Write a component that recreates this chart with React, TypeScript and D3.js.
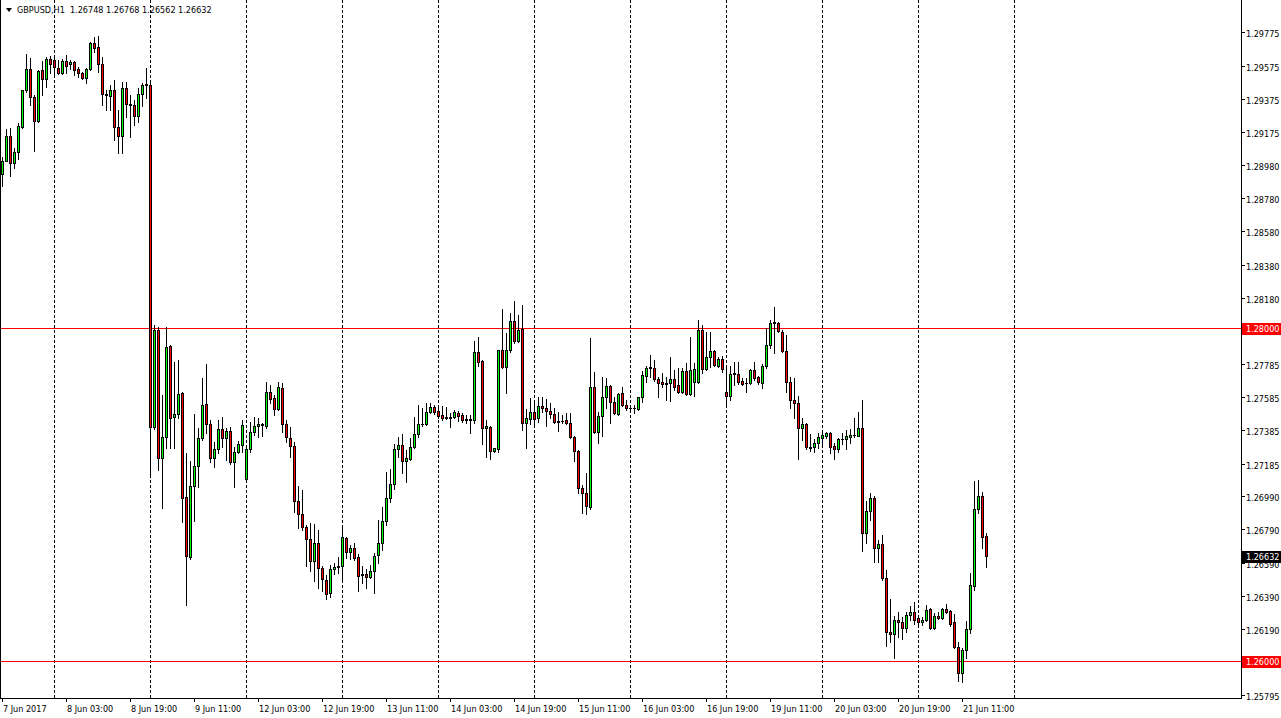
import React from 'react';
import * as d3 from 'd3';

// ---------- DATA (GBPUSD H1) ----------
const openP = [
1.28925,1.29003,1.29153,1.28991,1.29057,1.29207,1.29429,1.29556,1.29387,1.29243,
1.29550,1.29496,1.29616,1.29610,1.29562,1.29532,1.29604,1.29586,1.29598,1.29556,
1.29532,1.29502,1.29556,1.29712,1.29688,1.29586,1.29405,1.29393,1.29429,1.29207,
1.29153,1.29441,1.29345,1.29339,1.29273,1.29405,1.29465,1.29459,1.27405,1.27988,
1.27219,1.27345,1.27892,1.27465,1.27484,1.27610,1.26985,1.26625,1.27051,1.27171,
1.27339,1.27544,1.27423,1.27219,1.27273,1.27393,1.27339,1.27381,1.27195,1.27255,
1.27297,1.27093,1.27273,1.27375,1.27411,1.27417,1.27411,1.27616,1.27580,1.27514,
1.27640,1.27423,1.27339,1.27291,1.26961,1.26883,1.26805,1.26733,1.26601,1.26709,
1.26559,1.26487,1.26408,1.26553,1.26565,1.26571,1.26739,1.26655,1.26679,1.26625,
1.26517,1.26523,1.26505,1.26541,1.26637,1.26709,1.26841,1.26979,1.27063,1.27273,
1.27297,1.27201,1.27213,1.27285,1.27363,1.27423,1.27423,1.27496,1.27526,1.27502,
1.27478,1.27465,1.27462,1.27465,1.27490,1.27478,1.27453,1.27450,1.27447,1.27856,
1.27802,1.27399,1.27405,1.27261,1.27273,1.27868,1.27766,1.27868,1.28043,1.27922,
1.27994,1.27429,1.27453,1.27496,1.27459,1.27532,1.27520,1.27502,1.27484,1.27438,
1.27441,1.27447,1.27429,1.27345,1.27261,1.27039,1.27009,1.26925,1.27646,1.27375,
1.27472,1.27586,1.27652,1.27556,1.27484,1.27610,1.27538,1.27520,1.27517,1.27514,
1.27586,1.27712,1.27760,1.27760,1.27694,1.27676,1.27670,1.27670,1.27694,1.27658,
1.27616,1.27742,1.27604,1.27676,1.27676,1.27988,1.27754,1.27826,1.27862,1.27772,
1.27814,1.27616,1.27592,1.27724,1.27724,1.27682,1.27670,1.27670,1.27748,1.27706,
1.27670,1.27772,1.27898,1.28031,1.28031,1.27976,1.27862,1.27676,1.27568,1.27550,
1.27399,1.27423,1.27285,1.27285,1.27309,1.27339,1.27351,1.27369,1.27291,1.27273,
1.27333,1.27333,1.27345,1.27357,1.27351,1.27399,1.26769,1.26901,1.26979,1.26679,
1.26703,1.26499,1.26174,1.26162,1.26246,1.26234,1.26198,1.26276,1.26294,1.26258,
1.26234,1.26246,1.26312,1.26198,1.26270,1.26258,1.26312,1.26300,1.26234,1.26084,
1.25928,1.26066,1.26192,1.26450,1.26913,1.26991,1.26748
];
const highP = [
1.29027,1.29195,1.29201,1.29081,1.29231,1.29429,1.29646,1.29622,1.29399,1.29550,
1.29604,1.29628,1.29634,1.29634,1.29610,1.29616,1.29640,1.29610,1.29604,1.29568,
1.29538,1.29562,1.29718,1.29748,1.29754,1.29628,1.29429,1.29459,1.29490,1.29309,
1.29478,1.29478,1.29399,1.29369,1.29441,1.29472,1.29562,1.29472,1.28018,1.28006,
1.27598,1.28006,1.27898,1.27796,1.27808,1.27616,1.27249,1.27201,1.27484,1.27399,
1.27700,1.27784,1.27447,1.27315,1.27447,1.27465,1.27399,1.27405,1.27285,1.27321,
1.27447,1.27285,1.27435,1.27465,1.27459,1.27429,1.27676,1.27658,1.27598,1.27676,
1.27670,1.27447,1.27405,1.27315,1.27051,1.27027,1.26817,1.26829,1.26823,1.26787,
1.26571,1.26517,1.26577,1.26589,1.26625,1.26799,1.26745,1.26697,1.26709,1.26643,
1.26571,1.26553,1.26577,1.26649,1.26847,1.26925,1.27135,1.27153,1.27303,1.27345,
1.27363,1.27267,1.27339,1.27465,1.27538,1.27520,1.27550,1.27550,1.27538,1.27538,
1.27532,1.27526,1.27490,1.27508,1.27502,1.27490,1.27478,1.27478,1.27922,1.27946,
1.27808,1.27447,1.27411,1.27279,1.27868,1.28115,1.27970,1.28090,1.28163,1.28078,
1.28138,1.27514,1.27580,1.27568,1.27586,1.27586,1.27574,1.27550,1.27520,1.27496,
1.27478,1.27490,1.27490,1.27351,1.27267,1.27057,1.27129,1.27940,1.27736,1.27496,
1.27706,1.27700,1.27658,1.27586,1.27610,1.27646,1.27568,1.27538,1.27538,1.27586,
1.27742,1.27772,1.27838,1.27808,1.27706,1.27730,1.27706,1.27826,1.27748,1.27760,
1.27760,1.27790,1.27946,1.27790,1.28048,1.28018,1.27976,1.27976,1.27868,1.27826,
1.27832,1.27766,1.27772,1.27796,1.27796,1.27700,1.27700,1.27754,1.27796,1.27712,
1.27784,1.28000,1.28048,1.28127,1.28037,1.27988,1.27958,1.27706,1.27700,1.27592,
1.27459,1.27429,1.27363,1.27333,1.27369,1.27369,1.27375,1.27375,1.27309,1.27339,
1.27369,1.27387,1.27393,1.27459,1.27496,1.27568,1.26961,1.27009,1.26991,1.26727,
1.26757,1.26547,1.26372,1.26270,1.26294,1.26264,1.26294,1.26330,1.26354,1.26276,
1.26264,1.26336,1.26318,1.26288,1.26294,1.26318,1.26342,1.26306,1.26282,1.26114,
1.26078,1.26240,1.26529,1.27081,1.27087,1.27015,1.26768
];
const lowP = [
1.28853,1.29003,1.28913,1.28961,1.29015,1.29201,1.29417,1.29339,1.29063,1.29237,
1.29399,1.29447,1.29532,1.29514,1.29526,1.29526,1.29532,1.29556,1.29520,1.29508,
1.29496,1.29472,1.29550,1.29658,1.29538,1.29339,1.29309,1.29309,1.29129,1.29051,
1.29051,1.29267,1.29147,1.29219,1.29237,1.29333,1.29381,1.27105,1.27393,1.27147,
1.26919,1.27279,1.27279,1.27279,1.27459,1.26835,1.26336,1.26613,1.26841,1.27045,
1.27327,1.27369,1.27195,1.27165,1.27249,1.27285,1.27207,1.27183,1.27045,1.27249,
1.27255,1.27087,1.27255,1.27357,1.27345,1.27351,1.27399,1.27550,1.27478,1.27508,
1.27375,1.27315,1.27225,1.26895,1.26799,1.26787,1.26571,1.26541,1.26481,1.26438,
1.26420,1.26372,1.26384,1.26523,1.26529,1.26493,1.26619,1.26613,1.26607,1.26420,
1.26469,1.26438,1.26499,1.26408,1.26589,1.26667,1.26817,1.26955,1.27033,1.27225,
1.27129,1.27075,1.27207,1.27279,1.27345,1.27411,1.27417,1.27490,1.27484,1.27459,
1.27447,1.27453,1.27405,1.27459,1.27441,1.27435,1.27429,1.27369,1.27429,1.27772,
1.27303,1.27225,1.27213,1.27255,1.27255,1.27760,1.27610,1.27856,1.27910,1.27916,
1.27387,1.27279,1.27423,1.27423,1.27435,1.27496,1.27411,1.27459,1.27429,1.27381,
1.27429,1.27423,1.27339,1.27201,1.27009,1.26889,1.26883,1.26913,1.27369,1.27309,
1.27351,1.27520,1.27429,1.27484,1.27478,1.27532,1.27508,1.27496,1.27490,1.27508,
1.27556,1.27676,1.27706,1.27682,1.27586,1.27646,1.27568,1.27562,1.27628,1.27610,
1.27610,1.27598,1.27598,1.27592,1.27670,1.27730,1.27748,1.27766,1.27772,1.27766,
1.27736,1.27532,1.27568,1.27658,1.27664,1.27658,1.27616,1.27664,1.27688,1.27664,
1.27640,1.27760,1.27880,1.27850,1.27976,1.27856,1.27616,1.27520,1.27459,1.27213,
1.27327,1.27273,1.27261,1.27255,1.27279,1.27285,1.27339,1.27249,1.27213,1.27255,
1.27303,1.27273,1.27309,1.27345,1.27351,1.26661,1.26709,1.26847,1.26595,1.26595,
1.26487,1.26090,1.26114,1.26018,1.26144,1.26132,1.26174,1.26246,1.26222,1.26204,
1.26216,1.26240,1.26192,1.26192,1.26252,1.26252,1.26288,1.26210,1.26078,1.25880,
1.25874,1.26018,1.26168,1.26426,1.26889,1.26679,1.26562
];
const closeP = [
1.29003,1.29153,1.28991,1.29057,1.29213,1.29429,1.29556,1.29387,1.29243,1.29544,
1.29496,1.29616,1.29586,1.29568,1.29532,1.29604,1.29574,1.29598,1.29550,1.29532,
1.29502,1.29556,1.29712,1.29682,1.29586,1.29405,1.29399,1.29429,1.29207,1.29153,
1.29441,1.29345,1.29339,1.29273,1.29405,1.29459,1.29459,1.27405,1.27988,1.27219,
1.27345,1.27886,1.27459,1.27484,1.27604,1.26979,1.26631,1.27051,1.27171,1.27339,
1.27538,1.27423,1.27219,1.27273,1.27393,1.27339,1.27381,1.27195,1.27255,1.27303,
1.27417,1.27273,1.27375,1.27411,1.27423,1.27423,1.27616,1.27574,1.27514,1.27646,
1.27423,1.27345,1.27291,1.26961,1.26883,1.26805,1.26733,1.26601,1.26709,1.26559,
1.26493,1.26402,1.26553,1.26565,1.26571,1.26745,1.26655,1.26679,1.26619,1.26511,
1.26523,1.26505,1.26541,1.26631,1.26709,1.26841,1.26979,1.27063,1.27273,1.27297,
1.27201,1.27219,1.27285,1.27363,1.27423,1.27426,1.27496,1.27526,1.27496,1.27472,
1.27459,1.27462,1.27465,1.27496,1.27472,1.27447,1.27450,1.27453,1.27856,1.27796,
1.27399,1.27411,1.27261,1.27279,1.27868,1.27766,1.27868,1.28043,1.27922,1.27988,
1.27429,1.27459,1.27496,1.27453,1.27532,1.27520,1.27502,1.27484,1.27435,1.27441,
1.27444,1.27429,1.27345,1.27261,1.27039,1.27009,1.26931,1.27646,1.27375,1.27472,
1.27586,1.27652,1.27556,1.27490,1.27604,1.27538,1.27520,1.27517,1.27520,1.27586,
1.27718,1.27760,1.27763,1.27694,1.27670,1.27664,1.27664,1.27694,1.27646,1.27616,
1.27742,1.27604,1.27748,1.27754,1.27988,1.27754,1.27826,1.27862,1.27778,1.27814,
1.27754,1.27592,1.27724,1.27727,1.27676,1.27664,1.27667,1.27748,1.27700,1.27676,
1.27772,1.27898,1.28031,1.28034,1.27982,1.27862,1.27676,1.27568,1.27550,1.27399,
1.27423,1.27285,1.27282,1.27309,1.27345,1.27357,1.27369,1.27285,1.27273,1.27333,
1.27336,1.27351,1.27357,1.27360,1.27399,1.26769,1.26901,1.26979,1.26679,1.26703,
1.26499,1.26174,1.26162,1.26246,1.26234,1.26198,1.26276,1.26294,1.26246,1.26234,
1.26246,1.26306,1.26198,1.26270,1.26258,1.26312,1.26294,1.26222,1.26084,1.25928,
1.26066,1.26192,1.26456,1.26913,1.26991,1.26745,1.26632
];

const timeLabels = [
  '7 Jun 2017', '8 Jun 03:00', '8 Jun 19:00', '9 Jun 11:00', '12 Jun 03:00', '12 Jun 19:00',
  '13 Jun 11:00', '14 Jun 03:00', '14 Jun 19:00', '15 Jun 11:00', '16 Jun 03:00', '16 Jun 19:00',
  '19 Jun 11:00', '20 Jun 03:00', '20 Jun 19:00', '21 Jun 11:00'
];
const priceTicks = [
  1.29775, 1.29575, 1.29375, 1.29175, 1.2898, 1.2878, 1.2858, 1.2838, 1.2818, 1.27985,
  1.27785, 1.27585, 1.27385, 1.27185, 1.2699, 1.2679, 1.2659, 1.2639, 1.2619, 1.25795
];
const levelLines = [1.28, 1.26];
const symbolTitle = 'GBPUSD,H1';
const firstBarTime = new Date(2017, 5, 7, 11);
const labelEvery = 16;

// ---------- LAYOUT ----------
const W = 1281;
const H = 718;
const PLOT_R = 1241;
const PLOT_B = 698;
const FONT = "'DejaVu Sans Condensed', 'Liberation Sans', Arial, sans-serif";
const BULL = '#00ff00';
const BEAR = '#ff0000';

function buildTimes(n: number): Date[] {
  const out: Date[] = [];
  let t = new Date(firstBarTime);
  while (out.length < n) {
    const d = t.getDay();
    if (d !== 0 && d !== 6) out.push(new Date(t));
    t = d3.timeHour.offset(t, 1);
  }
  return out;
}

export default function App() {
  const n = closeP.length;
  const slots = 310;
  const times = buildTimes(slots);
  const x = d3.scaleLinear().domain([0, slots - 1]).range([2, 2 + 4 * (slots - 1)]);
  const y = d3.scaleLinear().domain([1.26, 1.28]).range([661, 328]);

  const last = n - 1;
  // day separators: every midnight up to the first one after the last bar
  const separators: number[] = [];
  for (let i = 0; i < times.length; i++) {
    if (times[i].getHours() === 0) {
      separators.push(i);
      if (i > last) break;
    }
  }

  const fmt = (v: number) => v.toFixed(5);

  return (
    <div style={{ position: 'fixed', left: 0, top: 0, width: W, height: H, background: '#fff' }}>
      <svg width={W} height={H} style={{ display: 'block' }} fontFamily={FONT}>
        <rect x={0} y={0} width={W} height={H} fill="#fff" />
        {/* period separators */}
        {separators.map((i) => (
          <line key={'s' + i} x1={Math.round(x(i)) + 0.5} x2={Math.round(x(i)) + 0.5} y1={0} y2={PLOT_B}
            stroke="#000" strokeWidth={1} strokeDasharray="3,2" shapeRendering="crispEdges" />
        ))}
        {/* horizontal levels */}
        {levelLines.map((v) => (
          <line key={'l' + v} x1={0} x2={PLOT_R} y1={Math.round(y(v)) + 0.5} y2={Math.round(y(v)) + 0.5}
            stroke={BEAR} strokeWidth={1} shapeRendering="crispEdges" />
        ))}
        {/* candles */}
        {closeP.map((c, i) => {
          const o = openP[i], h = highP[i], l = lowP[i];
          const cx = Math.round(x(i));
          const yH = Math.round(y(h));
          const yL = Math.round(y(l));
          const yO = Math.round(y(o));
          const yC = Math.round(y(c));
          const top = Math.min(yO, yC);
          const bot = Math.max(yO, yC);
          const col = c > o ? BULL : BEAR;
          return (
            <g key={'c' + i} shapeRendering="crispEdges">
              <rect x={cx} y={yH} width={1} height={Math.max(1, yL - yH + 1)} fill="#000" />
              <rect x={cx - 1} y={top} width={3} height={bot - top + 1} fill="#000" />
              {bot - top >= 2 && <rect x={cx} y={top + 1} width={1} height={bot - top - 1} fill={col} />}
            </g>
          );
        })}
        {/* frame */}
        <line x1={0.5} x2={0.5} y1={0} y2={PLOT_B} stroke="#000" shapeRendering="crispEdges" />
        <line x1={0} x2={PLOT_R + 1} y1={PLOT_B + 0.5} y2={PLOT_B + 0.5} stroke="#000" shapeRendering="crispEdges" />
        <line x1={PLOT_R + 0.5} x2={PLOT_R + 0.5} y1={0} y2={PLOT_B + 1} stroke="#000" shapeRendering="crispEdges" />
        {/* price axis */}
        {priceTicks.map((v) => {
          const py = Math.round(y(v));
          return (
            <g key={'p' + v}>
              <line x1={PLOT_R} x2={PLOT_R + 4} y1={py + 0.5} y2={py + 0.5} stroke="#000" shapeRendering="crispEdges" />
              <text x={1246} y={py + 5} fontSize={9} fill="#000">{fmt(v)}</text>
            </g>
          );
        })}
        {levelLines.map((v) => {
          const py = Math.round(y(v));
          return (
            <g key={'lb' + v}>
              <rect x={PLOT_R + 1} y={py - 5} width={W - PLOT_R - 1} height={12} fill={BEAR} />
              <text x={1246} y={py + 4} fontSize={9} fill="#fff">{fmt(v)}</text>
            </g>
          );
        })}
        {(() => {
          const py = Math.round(y(closeP[last]));
          return (
            <g>
              <rect x={PLOT_R + 1} y={py - 5} width={W - PLOT_R - 1} height={12} fill="#000" />
              <text x={1246} y={py + 4} fontSize={9} fill="#fff">{fmt(closeP[last])}</text>
            </g>
          );
        })()}
        {/* time axis */}
        {timeLabels.map((lab, k) => {
          const i = k * labelEvery;
          const tx = Math.round(x(i));
          return (
            <g key={'t' + k}>
              <line x1={tx + 0.5} x2={tx + 0.5} y1={PLOT_B} y2={PLOT_B + 4} stroke="#000" shapeRendering="crispEdges" />
              <text x={tx + 1} y={712} fontSize={9} fill="#000">{lab}</text>
            </g>
          );
        })}
        {/* header */}
        <polygon points="6,8 12,8 9,12" fill="#000" />
        <text x={17} y={13} fontSize={9} fill="#000" xmlSpace="preserve">
          {`${symbolTitle}  ${fmt(openP[last])} ${fmt(highP[last])} ${fmt(lowP[last])} ${fmt(closeP[last])}`}
        </text>
      </svg>
    </div>
  );
}
